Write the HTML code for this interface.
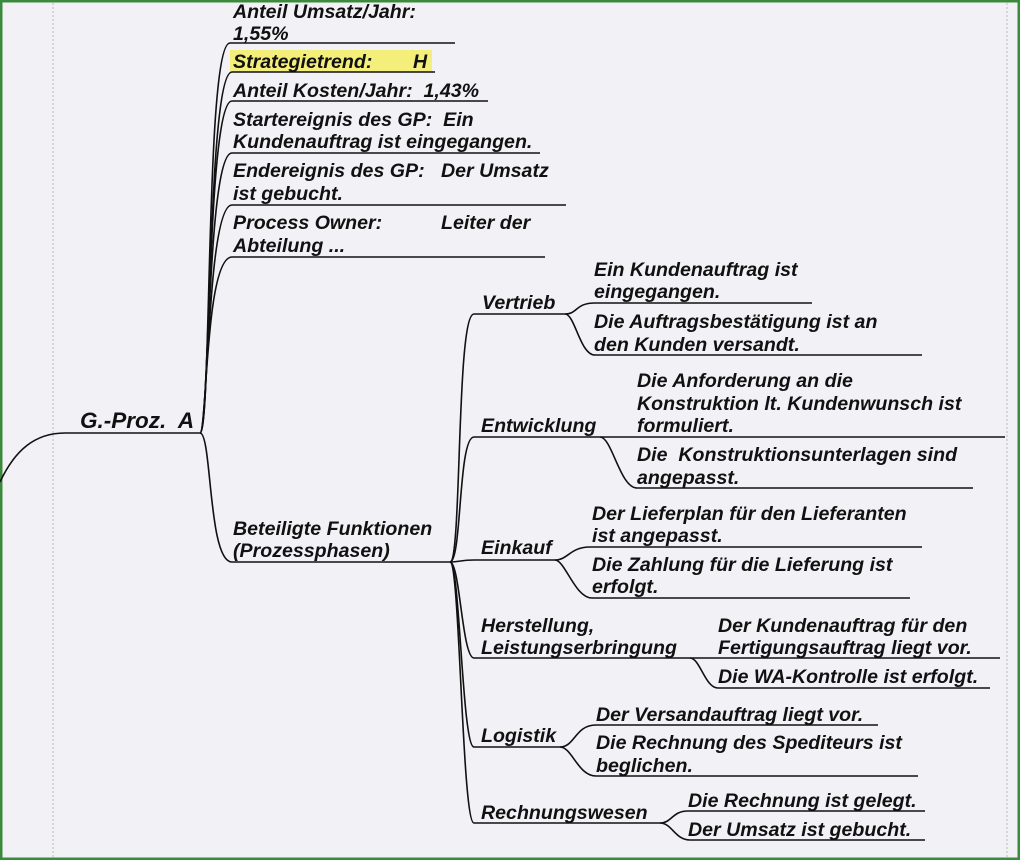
<!DOCTYPE html>
<html><head><meta charset="utf-8"><style>
html,body{margin:0;padding:0;}
body{width:1020px;height:860px;overflow:hidden;background:#f2f1f5;}
svg{display:block;}
text{font-family:"Liberation Sans",Arial,sans-serif;font-weight:bold;font-style:italic;font-size:19.6px;fill:#111;}
</style></head><body>
<svg width="1020" height="860" viewBox="0 0 1020 860" xmlns="http://www.w3.org/2000/svg">
<rect x="0" y="0" width="1020" height="860" fill="#f2f1f5"/>
<rect x="1" y="1" width="1018" height="858" fill="none" stroke="#3c8a3c" stroke-width="3"/>
<line x1="53" y1="3" x2="53" y2="857" stroke="#bbb" stroke-width="1" stroke-dasharray="2,2"/>
<line x1="1007" y1="3" x2="1007" y2="857" stroke="#bbb" stroke-width="1" stroke-dasharray="2,2"/>
<rect x="230" y="50" width="202" height="22" fill="#f4ef7a"/>
<g fill="none" stroke="#111" stroke-width="1.6">
<path d="M0,482 C15,450 35,433 65,433 L200,433"/>
<path d="M200,433 C212,433 205,43 230,43 L455,43"/>
<path d="M200,433 C211,433 207,72 232,72 L435,72"/>
<path d="M200,433 C210,433 207,101 232,101 L488,101"/>
<path d="M200,433 C209,433 207,153 232,153 L540,153"/>
<path d="M200,433 C208,433 207,205 232,205 L566,205"/>
<path d="M200,433 C207,433 205,257 232,257 L545,257"/>
<path d="M200,433 C212,433 208,562 232,562 L450,562"/>
<path d="M450,562 C462,562 456,314 474,314 L565,314"/>
<path d="M450,562 C462,562 458,437 474,437 L600,437"/>
<path d="M450,562 C460,562 460,560 474,560 L555,560"/>
<path d="M450,562 C460,562 462,658 474,658 L690,658"/>
<path d="M450,562 C460,562 462,747 474,747 L560,747"/>
<path d="M450,562 C460,562 462,823 474,823 L660,823"/>
<path d="M565,314 C578,314 575,303 595,303 L812,303"/>
<path d="M565,314 C575,314 580,355 595,355 L922,355"/>
<path d="M600,437 C615,437 620,437 637,437 L1005,437"/>
<path d="M600,437 C612,437 620,488 637,488 L973,488"/>
<path d="M555,560 C568,560 570,547 590,547 L922,547"/>
<path d="M555,560 C565,560 575,598 592,598 L910,598"/>
<path d="M690,658 C700,658 705,658 718,658 L1000,658"/>
<path d="M690,658 C700,658 705,688 718,688 L990,688"/>
<path d="M560,747 C575,747 575,725 596,725 L878,725"/>
<path d="M560,747 C572,747 578,776 596,776 L918,776"/>
<path d="M660,823 C672,823 672,811 688,811 L925,811"/>
<path d="M660,823 C672,823 675,840 690,840 L925,840"/>
</g>
<text x="233" y="18">Anteil Umsatz/Jahr:</text>
<text x="233" y="40">1,55%</text>
<text x="233" y="68">Strategietrend:</text>
<text x="413" y="68">H</text>
<text x="233" y="97" xml:space="preserve">Anteil Kosten/Jahr:  1,43%</text>
<text x="233" y="126" xml:space="preserve">Startereignis des GP:  Ein</text>
<text x="233" y="148">Kundenauftrag ist eingegangen.</text>
<text x="233" y="177" xml:space="preserve">Endereignis des GP:   Der Umsatz</text>
<text x="233" y="200">ist gebucht.</text>
<text x="233" y="229">Process Owner:</text>
<text x="441" y="229">Leiter der</text>
<text x="233" y="252">Abteilung ...</text>
<text x="80" y="428" style="font-size:22.5px" xml:space="preserve">G.-Proz.  A</text>
<text x="233" y="535">Beteiligte Funktionen</text>
<text x="233" y="557">(Prozessphasen)</text>
<text x="482" y="309">Vertrieb</text>
<text x="594" y="276">Ein Kundenauftrag ist</text>
<text x="594" y="298">eingegangen.</text>
<text x="594" y="328">Die Auftragsbestätigung ist an</text>
<text x="594" y="351">den Kunden versandt.</text>
<text x="481" y="432">Entwicklung</text>
<text x="637" y="387">Die Anforderung an die</text>
<text x="637" y="410">Konstruktion lt. Kundenwunsch ist</text>
<text x="637" y="432">formuliert.</text>
<text x="637" y="461" xml:space="preserve">Die  Konstruktionsunterlagen sind</text>
<text x="637" y="484">angepasst.</text>
<text x="481" y="554">Einkauf</text>
<text x="592" y="520">Der Lieferplan für den Lieferanten</text>
<text x="592" y="542">ist angepasst.</text>
<text x="592" y="571">Die Zahlung für die Lieferung ist</text>
<text x="592" y="593">erfolgt.</text>
<text x="481" y="632">Herstellung,</text>
<text x="481" y="654">Leistungserbringung</text>
<text x="718" y="632">Der Kundenauftrag für den</text>
<text x="718" y="654">Fertigungsauftrag liegt vor.</text>
<text x="718" y="683">Die WA-Kontrolle ist erfolgt.</text>
<text x="481" y="742">Logistik</text>
<text x="596" y="721">Der Versandauftrag liegt vor.</text>
<text x="596" y="749">Die Rechnung des Spediteurs ist</text>
<text x="596" y="772">beglichen.</text>
<text x="481" y="819">Rechnungswesen</text>
<text x="688" y="807">Die Rechnung ist gelegt.</text>
<text x="688" y="836">Der Umsatz ist gebucht.</text>
</svg>
</body></html>
